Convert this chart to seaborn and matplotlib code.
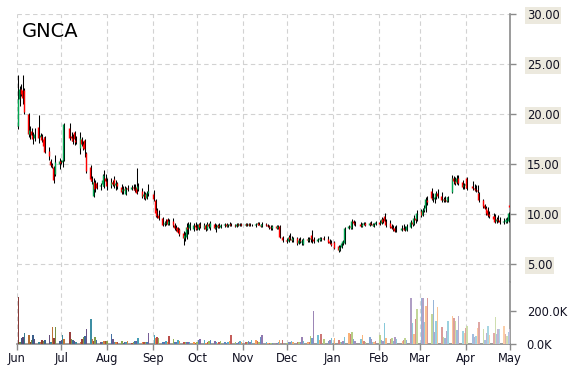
import numpy as np
import pandas as pd
import matplotlib
matplotlib.use("Agg")
import matplotlib.pyplot as plt
import matplotlib.dates as mdates
from matplotlib.ticker import FixedLocator, FuncFormatter
import seaborn as sns

# ---------------- data ----------------
ticker = "GNCA"
start_date = "2014-06-02"
end_date = "2015-05-01"
holidays = ["2014-07-04", "2014-09-01", "2014-11-27", "2014-12-25",
            "2015-01-01", "2015-01-19", "2015-02-16", "2015-04-03"]

opens = [
    18.8, 21.5, 22.5, 22.4, 22.4, 20.0, 18.0, 18.3, 17.9, 17.6, 18.7, 17.7, 17.8, 17.5, 17.7, 16.3, 15.3, 14.9, 14.7, 14.0, 15.0,
    15.3, 15.2, 15.4, 18.6, 17.8, 17.6, 18.2, 17.4, 16.6, 17.5, 17.0, 17.4, 16.1, 14.7, 13.6, 11.8, 13.2, 13.1, 12.8, 13.0, 12.8, 13.6,
    13.3, 12.9, 13.2, 13.5, 12.9, 13.1, 12.7, 12.3, 12.5, 12.0, 12.6, 12.5, 12.7, 12.5, 12.7, 12.5, 12.3, 11.8, 12.0, 11.6, 12.1,
    12.0, 11.4, 10.4, 9.9, 9.6, 9.0, 9.1, 9.5, 9.0, 9.3, 8.9, 8.6, 8.7, 8.5, 8.1, 7.6, 7.7, 8.7, 8.6, 8.5, 8.9,
    8.7, 8.5, 9.0, 8.6, 8.9, 8.5, 9.0, 8.7, 9.0, 8.6, 8.7, 8.9, 8.7, 8.9, 9.0, 8.8, 8.9, 9.0, 8.9, 8.8, 9.0, 8.9, 9.0,
    8.9, 9.0, 8.9, 9.0, 8.9, 8.9, 9.0, 9.1, 8.9, 8.8, 9.0, 8.9, 8.8, 8.7, 8.6, 8.8, 8.6, 8.8, 7.7,
    7.4, 7.3, 7.7, 7.5, 7.4, 7.6, 7.1, 7.4, 7.2, 7.0, 7.5, 7.4, 7.5, 7.9, 7.5, 7.3, 7.5, 7.4, 7.6, 7.5, 7.3, 7.1,
    7.2, 6.8, 6.4, 6.7, 7.1, 7.1, 8.6, 8.8, 8.6, 9.3, 9.1, 9.0, 8.8, 9.0, 9.1, 8.9, 9.1, 9.0, 8.8, 9.0,
    9.2, 9.1, 9.5, 9.8, 9.3, 9.1, 8.8, 8.6, 8.6, 8.4, 8.4, 8.6, 8.5, 8.4, 8.7, 9.2, 9.0, 9.6, 9.5,
    10.3, 9.9, 10.4, 10.6, 11.4, 12.3, 11.6, 11.5, 11.7, 12.1, 11.8, 11.4, 11.5, 11.4, 11.3, 12.2, 13.6, 13.3, 13.2, 13.6, 13.2, 12.8,
    12.9, 13.6, 12.8, 12.6, 12.5, 12.4, 12.1, 11.4, 10.9, 10.6, 10.4, 10.0, 9.8, 9.8, 9.3, 9.5, 9.4, 9.2, 9.3, 9.2, 9.3,
    10.9,
]
highs = [
    23.9, 22.8, 23.0, 23.9, 22.6, 20.1, 18.8, 18.6, 18.2, 18.6, 19.9, 18.1, 18.0, 17.7, 17.8, 16.7, 15.5, 15.1, 14.8, 15.9, 15.6,
    15.4, 16.1, 19.1, 19.1, 18.2, 18.0, 18.3, 17.8, 18.2, 17.7, 17.3, 17.5, 16.2, 14.9, 13.8, 13.6, 13.4, 13.2, 13.1, 14.0, 14.4, 14.0,
    13.6, 13.6, 13.4, 13.8, 13.4, 13.2, 13.0, 12.8, 12.8, 12.7, 12.9, 12.9, 13.0, 13.0, 14.6, 13.1, 12.6, 12.3, 12.2, 12.3, 13.0,
    12.4, 11.5, 10.6, 10.4, 9.7, 9.3, 9.5, 9.6, 9.5, 9.6, 9.1, 8.9, 8.7, 8.6, 8.3, 8.2, 9.1, 9.2, 9.2, 9.1, 9.2,
    9.0, 9.1, 9.2, 9.1, 9.0, 9.2, 9.1, 9.3, 9.1, 9.0, 9.0, 9.1, 9.0, 9.1, 9.1, 9.0, 9.2, 9.1, 9.0, 9.1, 9.1, 9.1, 9.1,
    9.1, 9.1, 9.1, 9.1, 9.0, 9.1, 9.2, 9.2, 9.0, 9.2, 9.1, 9.0, 8.9, 8.9, 8.9, 8.9, 8.9, 8.9, 7.8,
    7.6, 7.9, 8.1, 7.8, 7.7, 7.7, 7.6, 7.7, 7.5, 7.6, 7.7, 7.7, 7.8, 8.4, 7.7, 7.6, 7.7, 7.7, 7.8, 7.8, 7.5, 7.4,
    7.3, 6.9, 6.9, 7.2, 7.4, 8.7, 8.9, 9.0, 9.5, 9.4, 9.3, 9.2, 9.1, 9.2, 9.2, 9.2, 9.3, 9.1, 9.1, 9.3,
    9.4, 9.7, 9.6, 10.1, 9.5, 9.4, 9.0, 8.9, 8.8, 8.9, 8.9, 9.0, 8.8, 9.0, 9.4, 9.4, 9.9, 9.8, 10.4,
    10.5, 10.6, 10.9, 11.7, 11.8, 12.6, 12.1, 11.9, 12.3, 12.5, 12.2, 11.7, 11.8, 11.7, 11.8, 13.9, 13.8, 13.7, 13.9, 13.9, 13.4, 13.1,
    13.2, 13.7, 13.3, 13.0, 12.9, 12.9, 12.2, 11.5, 11.0, 10.8, 10.7, 10.3, 10.1, 10.0, 9.7, 9.9, 9.7, 9.6, 9.6, 9.7, 10.2,
    11.1,
]
lows = [
    18.5, 20.8, 21.8, 21.0, 20.0, 17.7, 17.5, 17.6, 17.0, 17.3, 17.1, 17.5, 17.2, 16.5, 16.1, 15.4, 14.7, 14.6, 13.1, 13.8, 14.5,
    15.0, 14.7, 15.3, 17.4, 17.3, 17.0, 16.9, 17.0, 16.0, 16.8, 16.4, 15.7, 14.1, 13.3, 13.0, 11.7, 12.2, 12.5, 12.4, 12.8, 12.6, 13.1,
    12.4, 12.6, 12.8, 12.6, 12.4, 12.5, 12.0, 12.0, 12.2, 11.9, 12.3, 12.4, 12.4, 12.2, 12.0, 12.3, 11.6, 11.5, 11.4, 11.5, 11.8,
    11.3, 9.7, 9.6, 9.4, 8.8, 8.8, 8.9, 8.9, 8.9, 8.7, 8.4, 8.3, 8.1, 7.8, 6.9, 7.3, 7.5, 8.0, 8.4, 8.3, 8.4,
    8.4, 8.4, 8.6, 8.5, 8.3, 8.4, 8.6, 8.4, 8.5, 8.2, 8.6, 8.6, 8.6, 8.7, 8.7, 8.7, 8.8, 8.8, 8.7, 8.7, 8.8, 8.8, 8.8,
    8.8, 8.8, 8.8, 8.8, 8.8, 8.7, 8.9, 8.9, 8.7, 8.7, 8.8, 8.7, 8.5, 8.4, 8.4, 8.5, 8.5, 7.6, 7.2,
    7.1, 7.2, 7.4, 7.2, 7.2, 6.9, 7.0, 7.1, 6.9, 6.9, 7.2, 7.2, 7.2, 7.1, 7.1, 7.2, 7.3, 7.3, 7.4, 7.1, 7.0, 6.8,
    6.5, 6.2, 6.3, 6.6, 6.9, 7.0, 8.5, 8.5, 8.5, 8.9, 8.8, 8.7, 8.7, 8.9, 8.8, 8.8, 8.9, 8.8, 8.7, 8.9,
    8.9, 9.0, 9.1, 9.1, 8.7, 8.6, 8.5, 8.3, 8.2, 8.2, 8.3, 8.4, 8.3, 8.3, 8.6, 8.8, 8.9, 9.1, 9.3,
    9.7, 9.8, 10.2, 10.2, 10.9, 11.4, 11.2, 11.1, 11.5, 11.6, 11.2, 11.2, 11.2, 11.2, 11.2, 12.1, 13.0, 12.9, 13.0, 12.9, 12.5, 12.5,
    12.6, 12.4, 12.4, 12.3, 12.2, 12.1, 11.2, 10.6, 10.5, 9.9, 9.7, 9.6, 9.3, 9.1, 9.1, 9.2, 9.0, 9.0, 9.1, 9.1, 9.2,
    10.2,
]
closes = [
    21.5, 22.5, 22.0, 21.6, 20.2, 18.0, 18.4, 17.9, 17.5, 18.0, 17.6, 17.9, 17.4, 16.8, 16.2, 15.8, 14.9, 14.8, 13.4, 15.2, 15.3,
    15.1, 15.4, 19.0, 17.6, 17.6, 17.3, 17.5, 17.2, 17.6, 17.0, 16.6, 16.5, 14.3, 13.5, 13.3, 13.2, 12.5, 12.6, 12.9, 13.4, 13.9, 13.3,
    12.8, 13.2, 13.0, 12.9, 13.1, 12.8, 12.2, 12.5, 12.4, 12.6, 12.5, 12.7, 12.6, 12.4, 12.1, 12.8, 11.8, 12.0, 11.6, 12.1, 12.3,
    11.5, 10.1, 9.8, 9.6, 8.9, 9.1, 9.2, 9.0, 9.3, 8.9, 8.6, 8.5, 8.2, 8.0, 7.6, 7.9, 8.7, 8.5, 9.0, 8.9, 8.7,
    8.5, 9.0, 8.7, 8.9, 8.5, 9.0, 8.8, 9.1, 8.6, 8.7, 8.9, 8.7, 8.9, 9.0, 8.8, 8.9, 9.0, 8.9, 8.8, 9.0, 8.9, 9.0, 8.9,
    9.0, 8.9, 9.0, 8.9, 8.9, 9.0, 9.1, 8.9, 8.8, 9.0, 8.9, 8.8, 8.7, 8.6, 8.8, 8.6, 8.8, 7.7, 7.4,
    7.3, 7.7, 7.5, 7.4, 7.6, 7.1, 7.4, 7.3, 7.3, 7.5, 7.4, 7.5, 7.6, 7.5, 7.3, 7.5, 7.6, 7.6, 7.5, 7.2, 7.1, 6.9,
    6.6, 6.4, 6.7, 7.1, 7.3, 8.6, 8.8, 8.7, 9.3, 9.1, 9.0, 8.8, 9.0, 9.1, 8.9, 9.1, 9.0, 8.9, 9.0, 9.2,
    9.0, 9.5, 9.2, 9.3, 8.9, 8.7, 8.6, 8.5, 8.3, 8.4, 8.6, 8.5, 8.4, 8.8, 9.2, 9.0, 9.6, 9.4, 10.1,
    9.9, 10.4, 10.6, 11.5, 11.2, 11.6, 11.5, 11.7, 12.1, 11.8, 11.4, 11.5, 11.4, 11.3, 11.7, 13.6, 13.3, 13.1, 13.6, 13.1, 12.7, 12.9,
    13.0, 12.6, 12.6, 12.5, 12.4, 12.3, 11.4, 10.8, 10.6, 10.1, 9.9, 9.8, 9.5, 9.2, 9.5, 9.4, 9.2, 9.3, 9.4, 9.5, 10.1,
    10.7,
]
volumes_k = [
    283, 15, 38, 44, 69, 55, 12, 24, 55, 28, 10, 12, 24, 20, 24, 55, 10, 105, 34, 105, 20,
    24, 55, 30, 73, 28, 24, 20, 10, 10, 30, 44, 48, 91, 152, 30, 20, 44, 24, 14, 14, 20, 20,
    20, 61, 30, 12, 10, 14, 18, 8, 10, 12, 18, 8, 10, 18, 20, 38, 14, 10, 14, 12, 69,
    55, 38, 42, 36, 14, 12, 20, 14, 48, 30, 10, 10, 24, 18, 14, 10, 14, 14, 14, 10, 8,
    10, 24, 30, 24, 8, 14, 18, 24, 18, 10, 8, 14, 18, 10, 8, 10, 20, 55, 14, 8, 10, 20, 10,
    14, 14, 18, 10, 24, 24, 18, 10, 44, 55, 14, 8, 6, 4, 8, 8, 10, 24, 24,
    8, 14, 10, 20, 10, 14, 10, 12, 40, 18, 14, 10, 48, 38, 200, 55, 24, 61, 28, 20, 24, 34,
    34, 24, 14, 14, 20, 40, 65, 61, 71, 30, 20, 28, 55, 18, 10, 40, 30, 14, 10, 20,
    55, 24, 18, 129, 34, 28, 36, 20, 40, 28, 18, 24, 34, 24, 279, 129, 60, 152, 212,
    279, 279, 133, 230, 277, 182, 267, 70, 139, 222, 103, 40, 35, 81, 139, 170, 156, 139, 83, 170, 77, 65,
    95, 109, 61, 40, 50, 95, 131, 89, 24, 65, 109, 55, 69, 162, 60, 89, 89, 109, 60, 50, 70,
    89,
]
price_ticks = [5, 10, 15, 20, 25, 30]
volume_ticks = [0, 200000]
x_start = "2014-06-01"
x_end = "2015-05-01"

# ---------------- style ----------------
sns.set_theme(style="white")
plt.rcParams["font.family"] = ["DejaVu Sans"]

UP = "#00A651"
DOWN = "#FF0000"
GRID = "#D2D2D2"
AXIS = "#8A8A8A"
base_pal = sns.color_palette(["#C0504D", "#9BBB59", "#4F81BD", "#8064A2", "#4BACC6", "#F79646"])

dates = pd.bdate_range(start_date, end_date, freq="C", holidays=holidays)
x = mdates.date2num(dates.to_pydatetime())
o = np.array(opens); h = np.array(highs); l = np.array(lows); c = np.array(closes)
v = np.array(volumes_k) * 1000.0
n = len(x)

fig = plt.figure(figsize=(5.7, 3.7), dpi=100)
W, H = 570.0, 370.0
ax = fig.add_axes([17 / W, 88 / H, 493 / W, 268 / H])
axv = fig.add_axes([17 / W, 26 / H, 493 / W, 62 / H], sharex=ax)

# candles
ax.vlines(x, l, h, color="black", lw=0.75, zorder=3)
body_col = np.where(c >= o, UP, DOWN)
ax.vlines(x - 0.55, np.minimum(o, c), np.maximum(o, c), colors=body_col, lw=1.0, zorder=4)

# volume bar colours: cycle of palette, shading from darker to lighter over time
vcols = []
for i in range(n):
    b = np.array(base_pal[i % len(base_pal)])
    t = -0.3 + 0.85 * i / (n - 1)
    col = b * (1 + t) if t < 0 else b + (1 - b) * t
    vcols.append(tuple(np.clip(col, 0, 1)))
axv.bar(x, v, width=1.0, color=vcols, linewidth=0, zorder=3)

# limits
ax.set_xlim(mdates.datestr2num(x_start), mdates.datestr2num(x_end))
ax.set_ylim(3.2, 30)
axv.set_ylim(0, 376000)

# grids
for a in (ax, axv):
    a.set_axisbelow(True)
    a.grid(False)
    a.xaxis.grid(True, color=GRID, ls=(0, (4, 3)), lw=0.8)
ax.yaxis.grid(True, color=GRID, ls=(0, (4, 3)), lw=0.8)

# spines
for a in (ax, axv):
    for s in ("top", "left"):
        a.spines[s].set_visible(False)
    a.spines["right"].set_color(AXIS)
    a.spines["right"].set_linewidth(1.2)
ax.spines["bottom"].set_visible(False)
axv.spines["bottom"].set_color(AXIS)
axv.spines["bottom"].set_linewidth(1.2)

# ticks
axv.xaxis.set_major_locator(mdates.MonthLocator())
axv.xaxis.set_major_formatter(mdates.DateFormatter("%b"))
ax.tick_params(axis="x", length=0, labelbottom=False)
axv.tick_params(axis="x", bottom=True, length=4, color=AXIS, width=1, labelsize=8.3, pad=2,
                labelcolor="#111122")

ax.yaxis.tick_right()
ax.yaxis.set_major_locator(FixedLocator(price_ticks))
ax.yaxis.set_major_formatter(FuncFormatter(lambda val, pos: f"{val:.2f}"))
ax.tick_params(axis="y", right=True, direction="out", length=4, color=AXIS, width=1,
               labelsize=8.3, pad=8, labelcolor="#111122")
for lab in ax.get_yticklabels():
    lab.set_bbox(dict(facecolor="#ECE9DE", edgecolor="none", pad=1.2))

axv.yaxis.tick_right()
axv.yaxis.set_major_locator(FixedLocator(volume_ticks))
axv.yaxis.set_major_formatter(FuncFormatter(lambda val, pos: f"{val / 1000:.1f}K"))
axv.tick_params(axis="y", right=True, direction="out", length=4, color=AXIS, width=1,
                labelsize=8.3, pad=8, labelcolor="#111122")

fig.text(22 / W, 1 - 22 / H, ticker, fontsize=14, ha="left", va="top", color="black")

fig.savefig("out.png", dpi=100)
